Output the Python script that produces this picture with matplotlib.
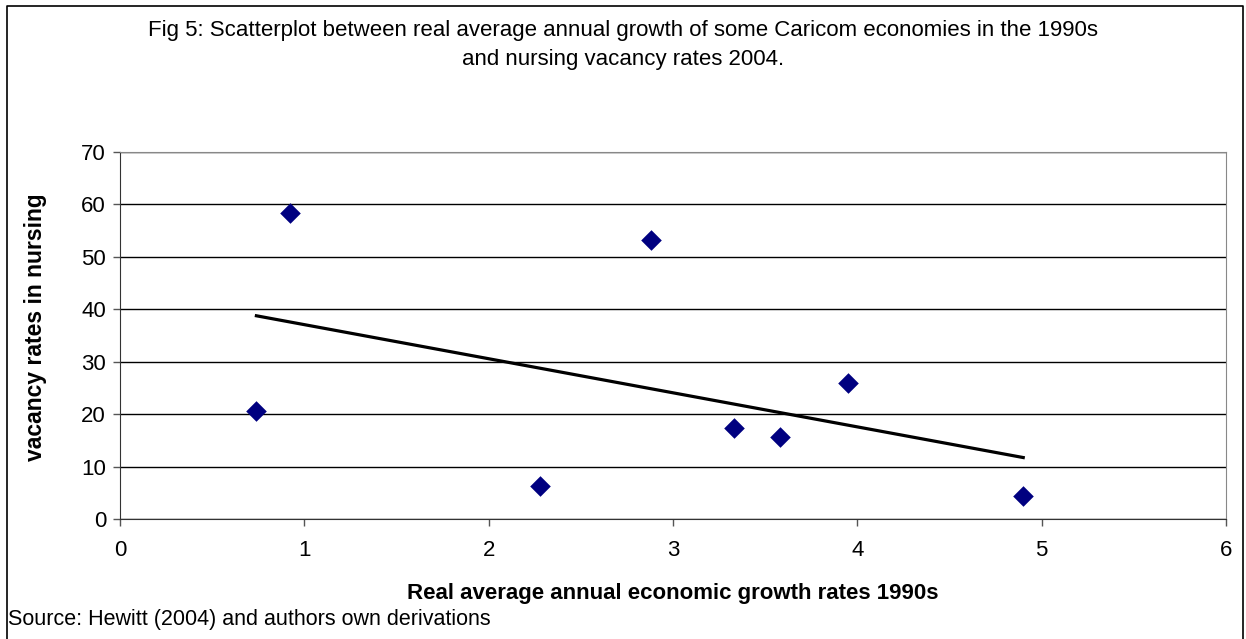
import matplotlib.pyplot as plt
import numpy as np
from matplotlib.transforms import Bbox

plt.rcParams['font.family'] = ['Liberation Sans', 'DejaVu Sans']

# data
growth = [0.74, 0.92, 2.28, 2.88, 3.33, 3.58, 3.95, 4.90]
vacancy = [20.6, 58.4, 6.3, 53.2, 17.4, 15.6, 25.9, 4.4]
x_ticks = [0, 1, 2, 3, 4, 5, 6]
y_ticks = [0, 10, 20, 30, 40, 50, 60, 70]

W, H = 1246, 639
fig = plt.figure(figsize=(W / 100, H / 100), dpi=100)
ax = fig.add_axes([120 / W, 1 - 519 / H, (1226 - 120) / W, (519 - 152) / H])

ax.scatter(growth, vacancy, marker='D', s=110, color='#000080', zorder=3, linewidths=0)

# linear trend line
k, b = np.polyfit(growth, vacancy, 1)
xs = np.array([min(growth), max(growth)])
ax.plot(xs, k * xs + b, color='black', lw=2.3, zorder=2)

ax.set_xlim(0, 6)
ax.set_ylim(0, 70)
ax.set_xticks(x_ticks)
ax.set_yticks(y_ticks)
ax.tick_params(labelsize=16, length=5, width=1, color='#555555')
ax.tick_params(axis='x', pad=10)
ax.tick_params(axis='y', pad=5)
ax.yaxis.grid(True, color='black', lw=1)
ax.set_axisbelow(True)
for s in ['left', 'bottom']:
    ax.spines[s].set_color('#333333')
ax.spines['top'].set_color('#888888')
ax.spines['right'].set_color('#888888')

# y label, cut off at the top like the original
yl = fig.text(36 / W, 1 - 461 / H, 'vacancy rates in nursing', rotation=90,
              ha='center', va='bottom', fontsize=16.5, fontweight='bold')
yl.set_clip_box(Bbox.from_extents(0, 0, W, H - 196))
yl.set_clip_on(True)

fig.text(673 / W, 1 - 594 / H, 'Real average annual economic growth rates 1990s',
         ha='center', va='center', fontsize=16, fontweight='bold')
fig.text(8 / W, 1 - 619 / H, 'Source: Hewitt (2004) and authors own derivations',
         ha='left', va='center', fontsize=15.5)
fig.text(623 / W, 1 - 45 / H,
         'Fig 5: Scatterplot between real average annual growth of some Caricom economies in the 1990s\nand nursing vacancy rates 2004.',
         ha='center', va='center', fontsize=16, linespacing=1.45)

# outer frame (no bottom edge)
fig.add_artist(plt.Line2D([7 / W, 7 / W, 1243 / W, 1243 / W],
                          [0, 1 - 6 / H, 1 - 6 / H, 0], color='black', lw=1.2,
                          transform=fig.transFigure))

fig.savefig('out.png', dpi=100)
